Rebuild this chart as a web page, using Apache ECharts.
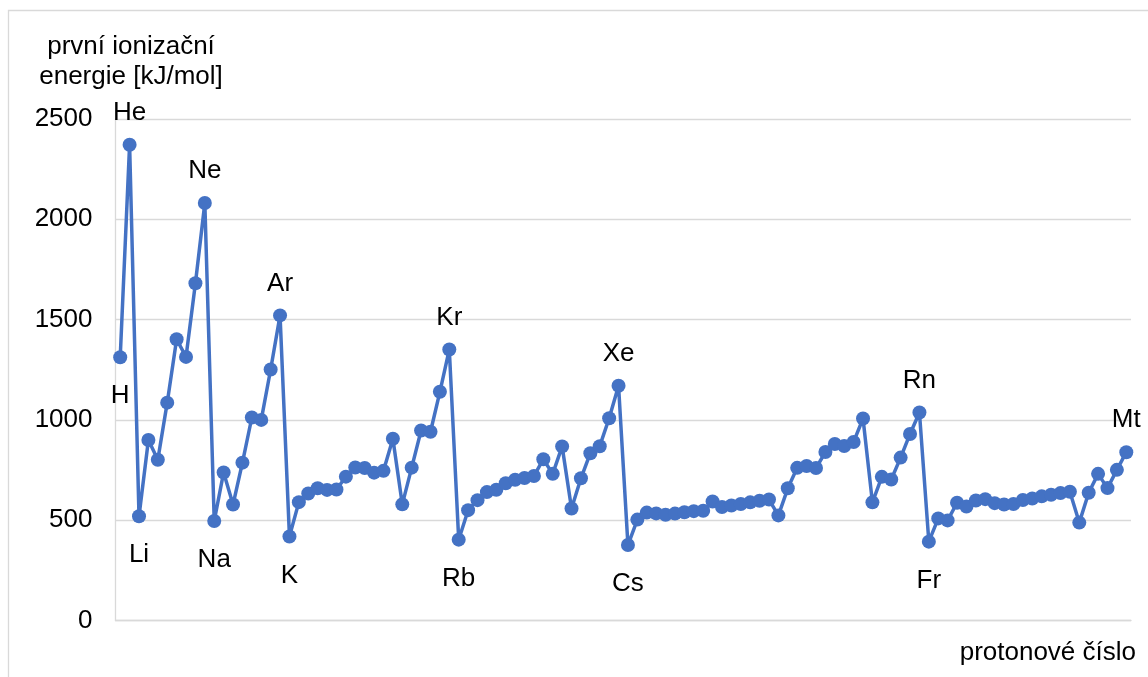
<!DOCTYPE html>
<html>
<head>
<meta charset="utf-8">
<script src="https://cdn.jsdelivr.net/npm/echarts@6/dist/echarts.min.js"></script>
<style>
html,body{margin:0;padding:0;background:#fff;}
#chart{width:1148px;height:677px;}
</style>
</head>
<body>
<div id="chart"></div>
<script>
// protonové číslo 1..108
const protonNumbers = Array.from({length: 108}, (_, i) => String(i + 1));
// první ionizační energie [kJ/mol]
const ionizationEnergy = [
  1312, 2372, 520, 900, 801, 1086, 1402, 1314, 1681, 2081,
  496, 738, 578, 787, 1012, 1000, 1251, 1521, 419, 590,
  633, 659, 651, 653, 717, 763, 760, 737, 746, 906,
  579, 762, 947, 941, 1140, 1351, 403, 550, 600, 640,
  652, 684, 702, 710, 720, 804, 731, 868, 558, 709,
  834, 869, 1008, 1170, 376, 503, 538, 534, 527, 533,
  540, 545, 547, 593, 566, 573, 581, 589, 597, 603,
  524, 659, 761, 770, 760, 840, 880, 870, 890, 1007,
  589, 716, 703, 812, 930, 1037, 393, 509, 499, 587,
  568, 598, 605, 585, 578, 581, 601, 608, 619, 627,
  635, 642, 488, 637, 731, 660, 751, 839
];
// labelled elements: index (0-based) -> symbol, placement
const labelIndex = [0, 1, 2, 9, 10, 17, 18, 35, 36, 53, 54, 85, 86, 107];
const labelText  = ['H', 'He', 'Li', 'Ne', 'Na', 'Ar', 'K', 'Kr', 'Rb', 'Xe', 'Cs', 'Rn', 'Fr', 'Mt'];
const labelSide  = ['bottom', 'top', 'bottom', 'top', 'bottom', 'top', 'bottom', 'top', 'bottom', 'top', 'bottom', 'top', 'bottom', 'top'];
const yTicks = [0, 500, 1000, 1500, 2000, 2500];

const FONT = "'Liberation Sans', Arial, sans-serif";
const FS = 26;

const seriesData = ionizationEnergy.map((v, i) => {
  const k = labelIndex.indexOf(i);
  if (k < 0) return v;
  return {
    value: v,
    label: {
      show: true,
      formatter: labelText[k],
      position: labelSide[k],
      distance: labelSide[k] === 'top' ? 12 : 19,
      color: '#000',
      fontSize: FS,
      fontFamily: FONT
    }
  };
});

const chart = echarts.init(document.getElementById('chart'), null, {renderer: 'canvas'});
chart.setOption({
  animation: false,
  backgroundColor: '#fff',
  grid: {left: 115.5, right: 17, top: 119, bottom: 56.5, containLabel: false},
  xAxis: {
    type: 'category',
    data: protonNumbers,
    boundaryGap: true,
    axisLine: {show: true, lineStyle: {color: '#d9d9d9', width: 1.3}},
    axisTick: {show: false},
    axisLabel: {show: false},
    splitLine: {show: false}
  },
  yAxis: {
    type: 'value',
    min: yTicks[0],
    max: yTicks[yTicks.length - 1],
    interval: 500,
    axisLine: {show: true, lineStyle: {color: '#d9d9d9', width: 1.3}},
    axisTick: {show: false},
    axisLabel: {color: '#000', fontSize: FS, fontFamily: FONT, margin: 23, padding: [4, 0, 0, 0], formatter: v => String(v)},
    splitLine: {show: true, lineStyle: {color: '#d9d9d9', width: 1.3}}
  },
  series: [{
    type: 'line',
    data: seriesData,
    symbol: 'circle',
    symbolSize: 14,
    showSymbol: true,
    showAllSymbol: true,
    itemStyle: {color: '#4472C4', opacity: 1},
    lineStyle: {color: '#4472C4', width: 3.5},
    label: {show: false},
    labelLayout: {hideOverlap: false},
    z: 3
  }],
  graphic: [
    {
      type: 'rect',
      shape: {x: 8.5, y: 10.5, width: 1200, height: 700},
      style: {fill: 'none', stroke: '#d9d9d9', lineWidth: 1.3},
      silent: true,
      z: -1
    },
    {
      type: 'text',
      x: 131, y: 61.5,
      style: {
        text: 'první ionizační\nenergie [kJ/mol]',
        fill: '#000',
        font: FS + 'px ' + FONT,
        textAlign: 'center',
        textVerticalAlign: 'middle',
        lineHeight: 30
      }
    },
    {
      type: 'text',
      x: 1136, y: 653,
      style: {
        text: 'protonové číslo',
        fill: '#000',
        font: FS + 'px ' + FONT,
        textAlign: 'right',
        textVerticalAlign: 'middle'
      }
    }
  ]
});
</script>
</body>
</html>
